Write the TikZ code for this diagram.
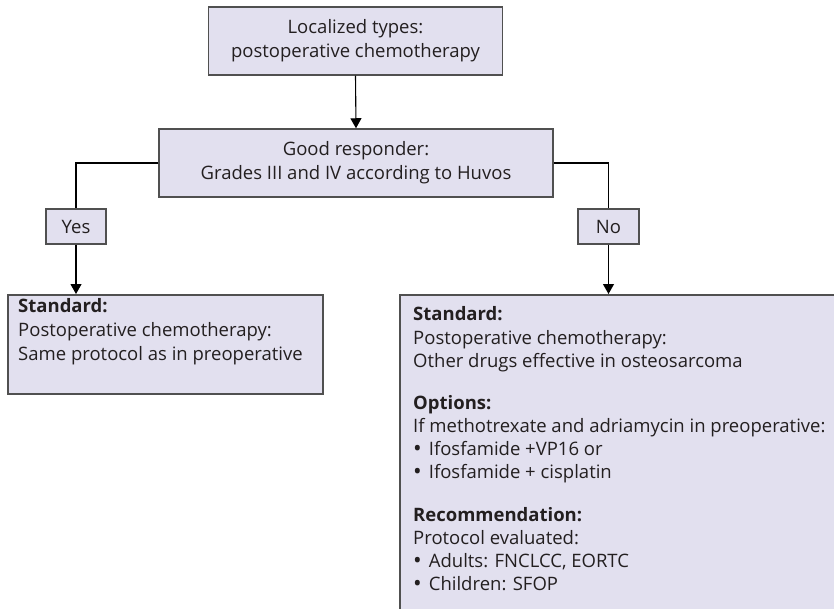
\documentclass[tikz,border=0pt]{standalone}
\usepackage{fontspec}
\setmainfont{Open Sans}
\usetikzlibrary{arrows.meta}
\definecolor{boxfill}{HTML}{E2E0EF}
\definecolor{boxline}{HTML}{505050}
\definecolor{ink}{HTML}{231F20}
\newcommand{\listdot}{\raisebox{-1.2pt}{\fontsize{23}{23}\selectfont\textbullet}\hspace{7pt}}
\begin{document}
\begin{tikzpicture}[x=1pt,y=-1pt,
  box/.style={draw=boxline, line width=1.5pt, fill=boxfill, inner sep=0pt},
  lbl/.style={font=\fontsize{18.5}{24}\selectfont, text=ink, align=center},
  line/.style={font=\fontsize{18.5}{23}\selectfont, text=ink, anchor=base west, inner sep=0pt},
  link/.style={draw=black, line width=1.1pt, -{Triangle[width=11pt,length=10pt]}},
  plain/.style={draw=black, line width=1.1pt}]
\useasboundingbox (0,0) rectangle (834,609);

% decision boxes
\node[box, lbl, minimum width=294pt, minimum height=68pt] (loc) at (355.5,41)
  {Localized types:\\postoperative chemotherapy};
\node[box, lbl, minimum width=394pt, minimum height=68pt] (good) at (356,163)
  {Good responder:\\Grades III and IV according to Huvos};
\node[box, lbl, minimum width=60pt, minimum height=35pt] (yes) at (76,226.5) {Yes};
\node[box, lbl, minimum width=61pt, minimum height=35pt] (no) at (608.5,226.5) {No};

% outcome boxes
\node[box, minimum width=315pt, minimum height=99pt, anchor=north west] (std) at (7,294) {};
\begin{scope}
  \clip (0,0) rectangle (834,609);
  \node[box, minimum width=460pt, minimum height=340pt, anchor=north west] (alt) at (399,294) {};
\end{scope}

% text of the good-responder outcome
\node[line] (s1) at (18,312) {\textbf{Standard:}};
\node[line] (s2) at (18,336) {Postoperative chemotherapy:};
\node[line] (s3) at (18,360) {Same protocol as in preoperative};

% text of the poor-responder outcome
\node[line] (a1) at (413,320) {\textbf{Standard:}};
\node[line] (a2) at (413,344) {Postoperative chemotherapy:};
\node[line] (a3) at (413,367) {Other drugs effective in osteosarcoma};
\node[line] (o1) at (413,409) {\textbf{Options:}};
\node[line] (o2) at (413,432) {If methotrexate and adriamycin in preoperative:};
\node[line] (o3) at (413,455) {\listdot Ifosfamide +VP16 or};
\node[line] (o4) at (413,478) {\listdot Ifosfamide + cisplatin};
\node[line] (r1) at (413,521) {\textbf{Recommendation:}};
\node[line] (r2) at (413,544) {Protocol evaluated:};
\node[line] (r3) at (413,567) {\listdot Adults: FNCLCC, EORTC};
\node[line] (r4) at (413,590) {\listdot Children: SFOP};

% connectors
\draw[link] (loc.south) -- (good.north);
\draw[plain] (good.west) -| (yes.north);
\draw[plain] (good.east) -| (no.north);
\draw[link] (yes.south) -- (yes.south |- std.north);
\draw[link] (no.south) -- (no.south |- alt.north);
\end{tikzpicture}
\end{document}
